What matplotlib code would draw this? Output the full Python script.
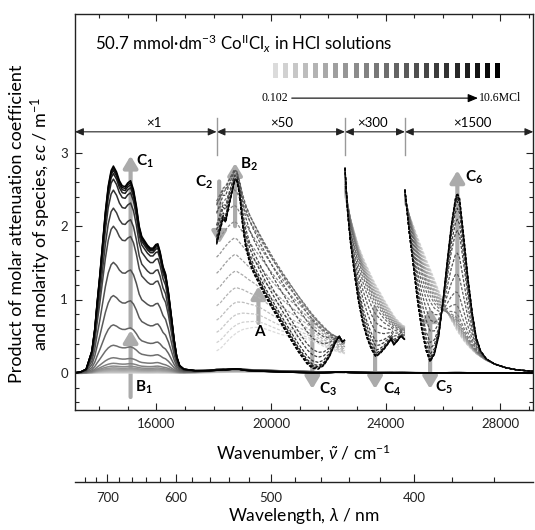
import numpy as np
import matplotlib
matplotlib.use('Agg')
import matplotlib.pyplot as plt
from matplotlib.patches import Rectangle
from matplotlib.ticker import FixedLocator

plt.rcParams['font.family'] = ['Lato', 'DejaVu Sans']
plt.rcParams['mathtext.fontset'] = 'custom'
plt.rcParams['mathtext.rm'] = 'Lato'
plt.rcParams['mathtext.it'] = 'Lato:italic'
plt.rcParams['mathtext.bf'] = 'Lato:bold'

# fractions of the three species (A, B, C) in the 23 HCl solutions, 0.102 -> 10.6 M
frac_a = [1.00, 0.96, 0.91, 0.85, 0.78, 0.70, 0.62, 0.54, 0.46, 0.38, 0.30, 0.23,
          0.17, 0.12, 0.08, 0.05, 0.03, 0.02, 0.01, 0.0, 0.0, 0.0, 0.0]
frac_b = [0.0, 0.04, 0.09, 0.149, 0.218, 0.297, 0.375, 0.452, 0.526, 0.595, 0.65, 0.66,
          0.62, 0.525, 0.40, 0.25, 0.18, 0.10, 0.055, 0.038, 0.022, 0.01, 0.0]
frac_c = [0.0, 0.0, 0.0, 0.001, 0.002, 0.003, 0.005, 0.008, 0.014, 0.025, 0.05, 0.11,
          0.21, 0.355, 0.52, 0.70, 0.79, 0.88, 0.935, 0.962, 0.978, 0.99, 1.0]

# x1 region
wn1 = [13150, 13350, 13550, 13750, 13850, 13930, 14030, 14130, 14220, 14320, 14420, 14500,
       14610, 14710, 14810, 14910, 15000, 15100, 15200, 15300, 15400, 15490, 15590, 15690,
       15790, 15880, 15980, 16050, 16130, 16230, 16320, 16420, 16520, 16620, 16710, 16810,
       16960, 17350, 17840, 18100]
a1 = [0.0] * 36 + [0.001, 0.002, 0.004, 0.006]
b1 = [0.0, 0.001, 0.004, 0.015, 0.03, 0.045, 0.06, 0.072, 0.082, 0.09, 0.097, 0.1,
      0.098, 0.094, 0.092, 0.093, 0.097, 0.1, 0.097, 0.09, 0.08, 0.074, 0.072, 0.07,
      0.071, 0.074, 0.079, 0.08, 0.077, 0.07, 0.064, 0.055, 0.042, 0.03, 0.02, 0.013,
      0.01, 0.015, 0.04, 0.062]
c1 = [0.0, 0.01, 0.05, 0.3, 0.6, 0.95, 1.35, 1.8, 2.2, 2.55, 2.76, 2.82,
      2.74, 2.62, 2.55, 2.54, 2.59, 2.62, 2.5, 2.28, 2.0, 1.86, 1.8, 1.74,
      1.7, 1.7, 1.75, 1.76, 1.65, 1.45, 1.35, 1.1, 0.78, 0.45, 0.22, 0.1,
      0.05, 0.03, 0.03, 0.035]

# x50 region
wn2 = [18100, 18230, 18330, 18420, 18520, 18620, 18720, 18810, 18910, 19010, 19110, 19250,
       19400, 19600, 19790, 20080, 20380, 20670, 20960, 21260, 21450, 21650, 21840, 22040,
       22230, 22380, 22480, 22580]
a2 = [0.3, 0.33, 0.37, 0.41, 0.45, 0.49, 0.52, 0.55, 0.57, 0.59, 0.6, 0.61,
      0.62, 0.62, 0.6, 0.56, 0.52, 0.5, 0.49, 0.46, 0.43, 0.4, 0.36, 0.33,
      0.3, 0.28, 0.27, 0.26]
b2 = [3.1, 3.18, 3.25, 3.3, 3.35, 3.38, 3.4, 3.33, 3.2, 3.08, 2.96, 2.8,
      2.65, 2.45, 2.28, 2.03, 1.8, 1.58, 1.36, 1.15, 1.02, 0.9, 0.79, 0.68,
      0.59, 0.53, 0.5, 0.47]
c2 = [1.75, 1.95, 2.1, 2.05, 2.25, 2.42, 2.6, 2.62, 2.4, 2.0, 1.72, 1.5,
      1.35, 1.2, 1.05, 0.85, 0.65, 0.46, 0.28, 0.12, 0.06, 0.05, 0.1, 0.22,
      0.4, 0.5, 0.42, 0.45]

# x300 region
wn3 = [22580, 22670, 22770, 22920, 23060, 23210, 23360, 23500, 23650, 23800, 23940, 24090,
       24190, 24280, 24380, 24530, 24670]
a3 = [2.4, 2.25, 2.1, 1.9, 1.72, 1.57, 1.44, 1.32, 1.2, 1.1, 1.0, 0.9,
      0.84, 0.78, 0.73, 0.67, 0.63]
b3 = [2.6, 2.35, 2.1, 1.8, 1.55, 1.33, 1.15, 1.0, 0.88, 0.8, 0.72, 0.66,
      0.62, 0.6, 0.58, 0.56, 0.55]
c3 = [2.8, 2.2, 1.78, 1.32, 0.95, 0.66, 0.46, 0.32, 0.22, 0.26, 0.32, 0.4,
      0.46, 0.38, 0.42, 0.5, 0.45]

# x1500 region
wn4 = [24670, 24820, 24970, 25110, 25260, 25410, 25550, 25700, 25850, 25990, 26140, 26290,
       26430, 26500, 26580, 26720, 26870, 27020, 27160, 27310, 27510, 27800, 28190, 28580,
       29170]
a4 = [2.3, 2.15, 2.0, 1.85, 1.7, 1.55, 1.42, 1.27, 1.12, 0.98, 0.85, 0.72,
      0.62, 0.57, 0.52, 0.44, 0.37, 0.31, 0.26, 0.22, 0.17, 0.12, 0.07, 0.04, 0.02]
b4 = [2.45, 2.15, 1.85, 1.55, 1.3, 1.1, 0.95, 0.85, 0.8, 0.78, 0.78, 0.8,
      0.8, 0.78, 0.72, 0.6, 0.48, 0.38, 0.3, 0.24, 0.18, 0.12, 0.07, 0.04, 0.02]
c4 = [2.5, 1.92, 1.44, 0.98, 0.58, 0.3, 0.15, 0.25, 0.5, 0.95, 1.5, 2.02,
      2.38, 2.45, 2.38, 1.88, 1.3, 0.82, 0.48, 0.3, 0.19, 0.12, 0.07, 0.04, 0.02]

factors = [1, 50, 300, 1500]
band_edges = [13160, 18100, 22580, 24670, 29150]
band_labels = ['×1', '×50', '×300', '×1500']
band_label_x = [15905, 20370, 23523, 27035]

arrow_x = [15100, 15100, 18190, 18745, 19560, 21440, 23630, 25550, 25550, 26500]
arrow_y0 = [0.62, -0.33, 2.61, 2.0, 0.68, 0.72, 0.89, 0.7, 0.2, 0.72]
arrow_y1 = [2.96, 0.58, 1.76, 2.86, 1.18, -0.22, -0.22, -0.22, 0.88, 2.76]

label_text = ['C_1', 'B_1', 'C_2', 'B_2', 'A', 'C_3', 'C_4', 'C_5', 'C_6']
label_x = [15605, 15545, 17663, 19233, 19616, 21974, 24238, 26024, 27081]
label_y = [2.88, -0.2, 2.6, 2.84, 0.56, -0.23, -0.23, -0.2, 2.67]

wl_major = [700, 600, 500, 400]
wl_minor = [760, 740, 720, 680, 660, 640, 620, 580, 560, 540, 520,
            480, 460, 440, 420, 380, 360]

W, H = 535, 530
fig = plt.figure(figsize=(W / 100, H / 100), dpi=100)
left, right, top, bottom = 75, 533.3, 13.5, 409.5
ax = fig.add_axes([left / W, 1 - bottom / H, (right - left) / W, (bottom - top) / H])
ax.set_xlim(13160, 29150)
ax.set_ylim(-0.5, 4.9)

def px2wn(x):
    return 20000 + (x - 271) / 0.02867

def px2val(y):
    return (373 - y) / 73.33

regions = [(wn1, a1, b1, c1), (wn2, a2, b2, c2), (wn3, a3, b3, c3), (wn4, a4, b4, c4)]
n = len(frac_a)
colors = [str(0.86 * (1 - i / (n - 1))) for i in range(n)]

for i in range(n):
    xs, ys = [], []
    for (wn, sa, sb, sc), fac in zip(regions, factors):
        y = frac_a[i] * np.array(sa) + frac_b[i] * np.array(sb) + frac_c[i] * np.array(sc)
        xs.append(np.array(wn))
        ys.append(y / fac)
        if fac > 1:
            ax.plot(wn, y, color=colors[i], lw=0.9, ls=(0, (2.4, 1.3)), zorder=2)
    ax.plot(np.concatenate(xs), np.concatenate(ys), color=colors[i], lw=1.1, zorder=2)

# grey guide arrows
for x, y0, y1 in zip(arrow_x, arrow_y0, arrow_y1):
    ax.annotate('', xy=(x, y1), xytext=(x, y0),
                arrowprops=dict(arrowstyle='-|>,head_length=0.5,head_width=0.3',
                                color='#ababab', lw=3.0, shrinkA=0, shrinkB=0,
                                mutation_scale=14), zorder=1)

for t, x, y in zip(label_text, label_x, label_y):
    ax.text(x, y, r'$\mathbf{%s}$' % t, ha='center', va='center', fontsize=11, zorder=5)

# scale bands on top
yb = px2val(132)
for k in range(len(band_labels)):
    ax.annotate('', xy=(band_edges[k + 1], yb), xytext=(band_edges[k], yb),
                arrowprops=dict(arrowstyle='<|-|>,head_length=0.5,head_width=0.22',
                                color='#222222', lw=0.8, shrinkA=0, shrinkB=0,
                                mutation_scale=10))
    ax.text(band_label_x[k], px2val(123), band_labels[k], ha='center', va='center',
            fontsize=9.5)
for x in band_edges[1:-1]:
    ax.plot([x, x], [px2val(155), px2val(118)], color='#999999', lw=1.0, zorder=3)

# header
ax.text(px2wn(95), px2val(44), r'50.7 mmol·dm$^{-3}$ Co$^{\mathrm{II}}$Cl$_{x}$ in HCl solutions',
        ha='left', va='center', fontsize=12.2)
sq_left, sq_right, sq_w = px2wn(272.7), px2wn(500), px2wn(277.7) - px2wn(272.7)
pitch = (sq_right - sq_w - sq_left) / (n - 1)
for k in range(n):
    ax.add_patch(Rectangle((sq_left + k * pitch, px2val(78.3)), sq_w,
                           px2val(63.3) - px2val(78.3), color=colors[k], lw=0))
ya = px2val(98.3)
ax.annotate('', xy=(px2wn(478), ya), xytext=(px2wn(291.7), ya),
            arrowprops=dict(arrowstyle='-|>,head_length=0.6,head_width=0.25',
                            color='black', lw=0.8, shrinkA=0, shrinkB=0, mutation_scale=10))
ax.text(px2wn(288.5), ya, '0.102', ha='right', va='center', fontsize=8.5,
        family='Liberation Serif')
ax.text(px2wn(478.5), ya, '10.6MCl', ha='left', va='center', fontsize=8.5,
        family='Liberation Serif')

# ticks
ax.set_xticks([16000, 20000, 24000, 28000])
ax.set_xticklabels(['16000', '20000', '24000', '28000'])
ax.xaxis.set_minor_locator(FixedLocator(np.arange(14000, 29001, 1000)))
ax.yaxis.set_major_locator(FixedLocator([0, 1, 2, 3]))
ax.yaxis.set_minor_locator(FixedLocator(np.arange(-0.4, 3.01, 0.2)))
ax.tick_params(which='both', direction='in', top=True, right=True, width=0.8,
               labelsize=9.5, colors='#222222')
ax.tick_params(which='major', length=5)
ax.tick_params(which='minor', length=2.8)
ax.tick_params(axis='x', pad=6)
ax.tick_params(axis='y', pad=5)
for s in ax.spines.values():
    s.set_linewidth(1.0)
    s.set_color('#222222')

# wavelength axis
ax2 = fig.add_axes([left / W, 1 - 482 / H, (right - left) / W, 1e-5])
ax2.set_xlim(ax.get_xlim())
for s in ['top', 'left', 'right']:
    ax2.spines[s].set_visible(False)
ax2.spines['bottom'].set_linewidth(1.0)
ax2.spines['bottom'].set_color('#222222')
ax2.set_yticks([])
ax2.set_xticks(1e7 / np.array(wl_major, dtype=float))
ax2.set_xticklabels([str(v) for v in wl_major])
ax2.xaxis.set_minor_locator(FixedLocator(1e7 / np.array(wl_minor, dtype=float)))
ax2.tick_params(which='both', direction='in', width=0.8, labelsize=9.5, colors='#222222')
ax2.tick_params(which='major', length=6, pad=7)
ax2.tick_params(which='minor', length=3.5)

fig.text(304 / W, 1 - 453 / H, r'Wavenumber, $\tilde{\nu}$ / cm$^{-1}$',
         ha='center', va='center', fontsize=12.5)
fig.text(304 / W, 1 - 516 / H, r'Wavelength, $\lambda$ / nm',
         ha='center', va='center', fontsize=12.5)
fig.text(31 / W, 1 - 224 / H,
         'Product of molar attenuation coefficient\nand molarity of species, $\\varepsilon c$ / m$^{-1}$',
         rotation=90, ha='center', va='center', multialignment='center',
         fontsize=13, linespacing=1.25)

fig.savefig('out.png', dpi=100)
